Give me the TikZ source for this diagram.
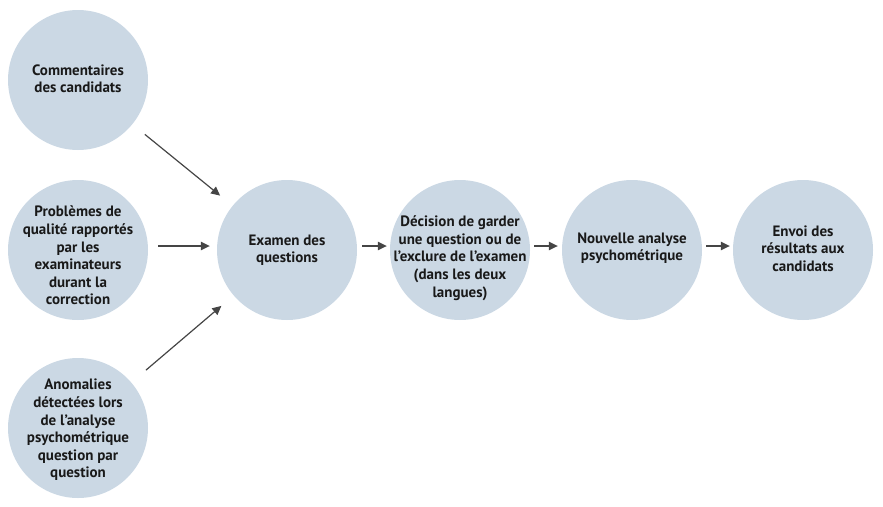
\documentclass[tikz,border=0pt]{standalone}
\usepackage{fontspec}
\setmainfont{PT Sans}
\usetikzlibrary{arrows.meta}
\definecolor{bubble}{HTML}{CBD8E4}
\definecolor{arr}{HTML}{454545}
\newcommand{\btext}[2]{\raisebox{#1}[0pt][0pt]{\makebox[0pt]{\begin{tabular}{@{}c@{}}#2\end{tabular}}}}
\tikzset{
  bubble/.style={circle, fill=bubble, draw=none, minimum size=140pt, inner sep=0pt,
    font=\bfseries\fontsize{15}{17.6}\selectfont, text=black!90},
  flow/.style={draw=arr, line width=1.2pt, -{Triangle[length=9pt,width=8.5pt]}}
}
\begin{document}
\begin{tikzpicture}[x=1pt,y=-1pt]
\useasboundingbox (0,0) rectangle (883,506);
\node[bubble] (c1) at (78,80) {\btext{-4pt}{Commentaires\\des candidats}};
\node[bubble] (c2) at (78,250) {\btext{-11pt}{Problèmes de\\qualité rapportés\\par les\\examinateurs\\durant la\\correction}};
\node[bubble] (c3) at (78,428) {\btext{-6pt}{Anomalies\\détectées lors\\de l’analyse\\psychométrique\\question par\\question}};
\node[bubble] (ex) at (287,250) {\btext{-4pt}{Examen des\\questions}};
\node[bubble] (de) at (460,250) {\btext{-12pt}{Décision de garder\\une question ou de\\l’exclure de l’examen\\(dans les deux\\langues)}};
\node[bubble] (nv) at (632,250) {\btext{-2pt}{Nouvelle analyse\\psychométrique}};
\node[bubble] (en) at (803,250) {\btext{-4pt}{Envoi des\\résultats aux\\candidats}};
\draw[flow, shorten <=16pt, shorten >=16pt] (c1) -- (ex);
\draw[flow, shorten <=10pt, shorten >=7pt] (c2.east |- 0,246) -- (ex.west |- 0,246);
\draw[flow, shorten <=19pt, shorten >=16pt] (c3) -- (ex);
\draw[flow, shorten <=5pt, shorten >=3pt] (ex.east |- 0,246) -- (de.west |- 0,246);
\draw[flow, shorten <=4pt, shorten >=4pt] (de.east |- 0,246) -- (nv.west |- 0,246);
\draw[flow, shorten <=4pt, shorten >=3pt] (nv.east |- 0,246) -- (en.west |- 0,246);
\end{tikzpicture}
\end{document}
